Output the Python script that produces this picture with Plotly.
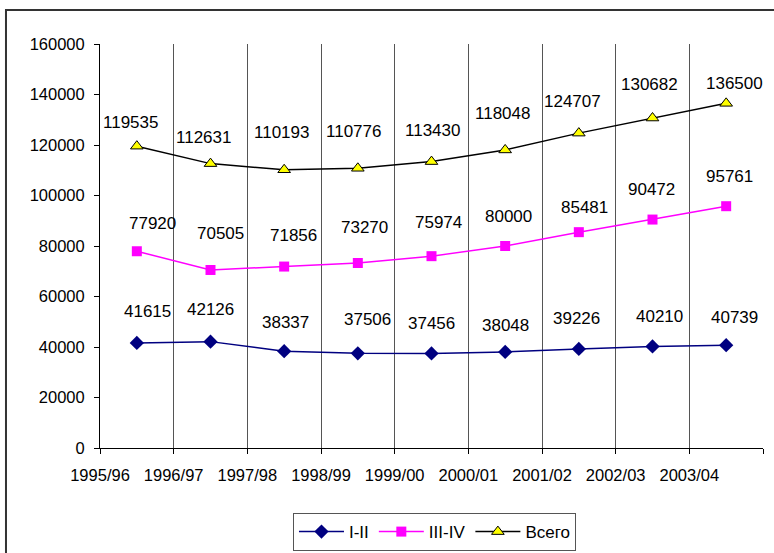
import plotly.graph_objects as go

# Academic years (category axis) and enrolment series
years = ["1995/96", "1996/97", "1997/98", "1998/99", "1999/00",
         "2000/01", "2001/02", "2002/03", "2003/04"]
s_1_2 = [41615, 42126, 38337, 37506, 37456, 38048, 39226, 40210, 40739]
s_3_4 = [77920, 70505, 71856, 73270, 75974, 80000, 85481, 90472, 95761]
s_total = [119535, 112631, 110193, 110776, 113430, 118048, 124707, 130682, 136500]

names = ["I-II", "III-IV", "Всего"]

# Points sit in the middle of each category slot; labels sit on slot boundaries
x_pts = [i + 0.5 for i in range(len(years))]

FONT = "Liberation Sans, Arial, sans-serif"

fig = go.Figure()
fig.add_trace(go.Scatter(
    x=x_pts, y=s_1_2, name=names[0], mode="lines+markers",
    line=dict(color="#000080", width=1.5),
    marker=dict(symbol="diamond", size=11, color="#000080"),
))
fig.add_trace(go.Scatter(
    x=x_pts, y=s_3_4, name=names[1], mode="lines+markers",
    line=dict(color="#FF00FF", width=1.5),
    marker=dict(symbol="square", size=10, color="#FF00FF"),
))
fig.add_trace(go.Scatter(
    x=x_pts, y=s_total, name=names[2], mode="lines+markers",
    line=dict(color="#000000", width=1.5),
    marker=dict(symbol="triangle-up", size=11, color="#FFFF00",
                line=dict(color="#000000", width=1)),
))

# Pixel offsets of each value label from its point (dx, dy up)
dx_1_2 = [11, 0, 1, 10, 0, 0, -2, 7, 8]
dy_1_2 = [31, 32, 29, 34, 30, 26, 30, 30, 28]
dx_3_4 = [16, 10, 9, 7, 7, 3, 6, -1, 3]
dy_3_4 = [28, 36, 31, 35, 34, 30, 25, 30, 30]
dx_tot = [-6, -7, -3, -4, 1, -3, -6, -3, 8]
dy_tot = [24, 26, 37, 37, 31, 36, 32, 34, 20]

annotations = []
for series, dxs, dys in ((s_1_2, dx_1_2, dy_1_2),
                         (s_3_4, dx_3_4, dy_3_4),
                         (s_total, dx_tot, dy_tot)):
    for xv, yv, dx, dy in zip(x_pts, series, dxs, dys):
        annotations.append(dict(
            x=xv, y=yv, text=str(yv), showarrow=False,
            xshift=dx, yshift=dy,
            font=dict(family=FONT, size=17, color="#000000"),
        ))

# Chart frame
shapes = [dict(type="rect", xref="paper", yref="paper",
               x0=-0.1418, y0=-0.5, x1=1.2, y1=1.0842,
               line=dict(color="#333333", width=2), fillcolor="rgba(0,0,0,0)",
               layer="below")]

fig.update_layout(
    width=774, height=553,
    margin=dict(l=100, r=11, t=44, b=105, autoexpand=False),
    paper_bgcolor="#FFFFFF", plot_bgcolor="#FFFFFF",
    font=dict(family=FONT, size=17, color="#000000"),
    showlegend=True,
    legend=dict(
        orientation="h", x=0.5045, xanchor="center", y=-0.161, yanchor="top",
        bordercolor="#555555", borderwidth=1, bgcolor="#FFFFFF",
        font=dict(family=FONT, size=17), itemwidth=45,
    ),
    annotations=annotations,
    shapes=shapes,
)

fig.update_xaxes(
    range=[0, 9],
    tickmode="array",
    tickvals=list(range(len(years))),
    ticktext=years,
    ticks="outside", ticklen=5, tickcolor="#000000",
    minor=dict(tickmode="array", tickvals=[len(years)], ticks="outside",
               ticklen=5, tickcolor="#000000", showgrid=False),
    showgrid=True, gridcolor="#555555", gridwidth=1,
    showline=True, linecolor="#000000", linewidth=1,
    zeroline=False,
    tickfont=dict(family=FONT, size=16.5),
    ticklabelstandoff=7,
)
fig.update_yaxes(
    range=[0, 160000], dtick=20000, tick0=0,
    ticks="outside", ticklen=5, tickcolor="#000000",
    showgrid=False, zeroline=False,
    showline=True, linecolor="#000000", linewidth=1,
    tickfont=dict(family=FONT, size=16.5),
    tickformat="d",
    ticklabelstandoff=6,
)

fig.write_html("out.html")
